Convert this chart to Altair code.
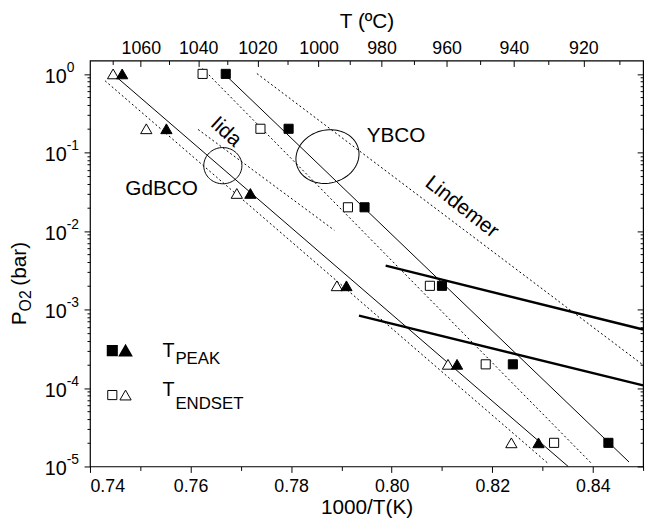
import math
import altair as alt
import pandas as pd

# ---------------- data ----------------
p_tri = [1.0, 0.2, 0.03, 0.002, 2e-4, 2e-5]
p_sq = [1.0, 0.2, 0.02, 0.002, 2e-4, 2e-5]
gd_peak_x = [0.7464, 0.7552, 0.7719, 0.7910, 0.8130, 0.8292]
gd_endset_x = [0.7446, 0.7512, 0.7692, 0.7891, 0.8112, 0.8238]
yb_peak_x = [0.7670, 0.7795, 0.7946, 0.8100, 0.8241, 0.8431]
yb_endset_x = [0.7624, 0.7739, 0.7913, 0.8076, 0.8187, 0.8323]

fit_names = ["GdBCO fit", "YBCO fit"]
fit_x = [[0.7456, 0.8351], [0.7670, 0.8472]]
fit_p = [[0.875, 1.0e-5], [0.96, 1.14e-5]]

lit_names = ["Iida a", "Iida b", "Lindemer a", "Lindemer b"]
lit_x = [[0.7430, 0.8312], [0.7615, 0.7886], [0.7624, 0.8397], [0.7732, 0.8500]]
lit_p = [[0.817, 1.08e-5], [0.196, 0.0102], [1.17, 1.1e-5], [1.01, 1.96e-4]]

bound_names = ["upper", "lower"]
bound_x = [[0.7988, 0.8500], [0.7935, 0.8500]]
bound_p = [[3.61e-3, 5.55e-4], [8.33e-4, 1.08e-4]]

x_major = [0.74, 0.76, 0.78, 0.80, 0.82, 0.84]
x_minor = [0.75, 0.77, 0.79, 0.81, 0.83, 0.85]
t_major = [1060, 1040, 1020, 1000, 980, 960, 940, 920]
t_minor = [1070, 1050, 1030, 1010, 990, 970, 950, 930, 910]
y_decades = [1e0, 1e-1, 1e-2, 1e-3, 1e-4, 1e-5]
y_exponents = ["0", "-1", "-2", "-3", "-4", "-5"]

ann_text = ["GdBCO", "YBCO", "Iida", "Lindemer"]
ann_x = [0.75425, 0.80086, 0.76701, 0.81393]
ann_p = [0.0342, 0.160, 0.1813, 0.0201]
ann_angle = [0, 0, 42, 38]

# ---------------- helpers ----------------
FONT = "Liberation Sans"
W, H = 560, 411
xsc = alt.Scale(domain=[0.74, 0.85], nice=False, zero=False)
ysc = alt.Scale(type="log", domain=[1e-5, 1.48], nice=False)

tx_major = [1000.0 / (t + 273.15) for t in t_major]
tx_minor = [1000.0 / (t + 273.15) for t in t_minor]
y_minor = [k * d for d in [1e-5, 1e-4, 1e-3, 1e-2, 1e-1] for k in range(2, 10)]


def X(axis=None):
    return alt.X("x:Q", scale=xsc, axis=axis)


def Y(axis=None):
    return alt.Y("p:Q", scale=ysc, axis=axis)


def segs(names, xs, ps):
    rows = []
    for n, xx, pp in zip(names, xs, ps):
        for a, b in zip(xx, pp):
            rows.append({"id": n, "x": a, "p": b})
    return pd.DataFrame(rows)


def ellipse_path(ratio, n=72):
    pts = []
    for i in range(n):
        t = 2 * math.pi * i / n
        pts.append(f"{math.cos(t):.4f} {ratio * math.sin(t):.4f}")
    return "M " + " L ".join(pts) + " Z"


common = dict(domain=False, grid=False, tickColor="black", tickWidth=1)

ax_bottom_major = alt.Axis(values=x_major, orient="bottom", format=".2f", tickSize=6,
                           labelFont=FONT, labelFontSize=18, labelColor="black", labelPadding=5,
                           title="1000/T(K)", titleFont=FONT, titleFontSize=21,
                           titleFontWeight="normal", titleColor="black", titlePadding=2, **common)
ax_bottom_minor = alt.Axis(values=x_minor, orient="bottom", tickSize=4, labels=False, title="", **common)
ax_top_labels = alt.Axis(values=tx_major, orient="top", ticks=False,
                         labelExpr="format(1000/datum.value - 273.15, '.0f')",
                         labelFont=FONT, labelFontSize=18, labelColor="black", labelPadding=3,
                         title="T (ºC)", titleFont=FONT, titleFontSize=21,
                         titleFontWeight="normal", titleColor="black", titlePadding=8,
                         domain=False, grid=False)
ax_top_major = alt.Axis(values=tx_major, orient="top", offset=-6, tickSize=6, labels=False, title="", **common)
ax_top_minor = alt.Axis(values=tx_minor, orient="top", offset=-4, tickSize=4, labels=False, title="", **common)
ax_left_major = alt.Axis(values=y_decades, orient="left", tickSize=6, labels=False, title="", **common)
ax_left_minor = alt.Axis(values=y_minor, orient="left", tickSize=3, labels=False, title="", **common)
ax_right_major = alt.Axis(values=y_decades, orient="right", offset=-6, tickSize=6, labels=False, title="", **common)
ax_right_minor = alt.Axis(values=y_minor, orient="right", offset=-3, tickSize=3, labels=False, title="", **common)

# ---------------- layers ----------------
solid = alt.Chart(segs(fit_names, fit_x, fit_p)).mark_line(color="black", strokeWidth=1).encode(
    x=X(ax_bottom_major), y=Y(ax_left_major), detail="id:N")
dotted = alt.Chart(segs(lit_names, lit_x, lit_p)).mark_line(
    color="black", strokeWidth=1, strokeDash=[2, 2.5]).encode(
    x=X(ax_bottom_minor), y=Y(ax_left_minor), detail="id:N")
thick = alt.Chart(segs(bound_names, bound_x, bound_p)).mark_line(color="black", strokeWidth=2.4).encode(
    x=X(ax_top_labels), y=Y(ax_right_major), detail="id:N")


def pts(xs, ps, shape, filled, size, xaxis=None, yaxis=None):
    df = pd.DataFrame({"x": xs, "p": ps})
    return alt.Chart(df).mark_point(shape=shape, filled=True, size=size,
                                    fill="black" if filled else "white",
                                    stroke="black", strokeWidth=1, opacity=1).encode(
        x=X(xaxis), y=Y(yaxis))


gd_end = pts(gd_endset_x, p_tri, "triangle-up", False, 130, ax_top_major, ax_right_minor)
gd_pk = pts(gd_peak_x, p_tri, "triangle-up", True, 130, ax_top_minor)
yb_end = pts(yb_endset_x, p_sq, "square", False, 85)
yb_pk = pts(yb_peak_x, p_sq, "square", True, 85)

ell_df = pd.DataFrame({"x": [0.76642, 0.78723], "p": [0.0678, 0.0885]})
iida_ell = alt.Chart(ell_df.iloc[[0]]).mark_point(
    shape=ellipse_path(0.95), size=1490, filled=False, stroke="black", strokeWidth=1, opacity=1
).encode(x=X(), y=Y())
ybco_ell = alt.Chart(ell_df.iloc[[1]]).mark_point(
    shape=ellipse_path(0.83), size=4170, angle=345, filled=False, stroke="black", strokeWidth=1, opacity=1
).encode(x=X(), y=Y())

ann_df = pd.DataFrame({"t": ann_text, "x": ann_x, "p": ann_p, "a": ann_angle})
ann = alt.Chart(ann_df).mark_text(font=FONT, fontSize=21, color="black", align="center",
                                  baseline="middle").encode(
    x=X(), y=Y(), text="t:N", angle=alt.Angle("a:Q", scale=None))

# y tick labels 10^n
yl_df = pd.DataFrame({"p": y_decades, "e": y_exponents})
ylab10 = alt.Chart(yl_df).mark_text(font=FONT, fontSize=20, color="black", align="right",
                                    baseline="middle", dy=3).encode(
    x=alt.value(-23.5), y=Y(), text=alt.value("10"))
ylabexp = alt.Chart(yl_df).mark_text(font=FONT, fontSize=14, color="black", align="left",
                                     baseline="middle", dy=-6).encode(
    x=alt.value(-23.5), y=Y(), text="e:N")

# y axis title  P_O2 (bar)
one = pd.DataFrame({"k": [0]})


def vtext(txt, xv, yv, size):
    return alt.Chart(one).mark_text(font=FONT, fontSize=size, color="black", align="left",
                                    baseline="alphabetic", angle=270).encode(
        x=alt.value(xv), y=alt.value(yv), text=alt.value(txt))


ytitle = [vtext("P", -64.7, 268, 21), vtext("O2", -59.5, 254, 16), vtext("(bar)", -64.7, 228, 21)]

# legend
leg_sym = [
    alt.Chart(one).mark_point(shape="square", filled=True, size=85, fill="black", stroke="black",
                              opacity=1).encode(x=alt.value(22.6), y=alt.value(293.7)),
    alt.Chart(one).mark_point(shape="triangle-up", filled=True, size=130, fill="black", stroke="black",
                              opacity=1).encode(x=alt.value(36), y=alt.value(293.7)),
    alt.Chart(one).mark_point(shape="square", filled=True, size=85, fill="white", stroke="black",
                              strokeWidth=1, opacity=1).encode(x=alt.value(22.6), y=alt.value(338.7)),
    alt.Chart(one).mark_point(shape="triangle-up", filled=True, size=130, fill="white", stroke="black",
                              strokeWidth=1, opacity=1).encode(x=alt.value(36), y=alt.value(338.7)),
]


def htext(txt, xv, yv, size):
    return alt.Chart(one).mark_text(font=FONT, fontSize=size, color="black", align="left",
                                    baseline="middle").encode(
        x=alt.value(xv), y=alt.value(yv), text=alt.value(txt))


leg_txt = [htext("T", 73.5, 294, 20), htext("PEAK", 86.5, 302, 17),
           htext("T", 73.5, 334, 20), htext("ENDSET", 86.5, 347.8, 17)]

chart = alt.layer(
    solid, dotted, thick, iida_ell, ybco_ell, gd_end, gd_pk, yb_end, yb_pk, ann,
    ylab10, ylabexp, *ytitle, *leg_sym, *leg_txt
).resolve_axis(x="independent", y="independent").properties(
    width=W, height=H,
    autosize=alt.AutoSizeParams(type="none"),
    padding={"left": 83, "top": 50, "right": 8, "bottom": 50},
).configure_view(stroke="black", strokeWidth=1.2)

chart.save("out.html", embed_options={"renderer": "svg", "actions": False})
